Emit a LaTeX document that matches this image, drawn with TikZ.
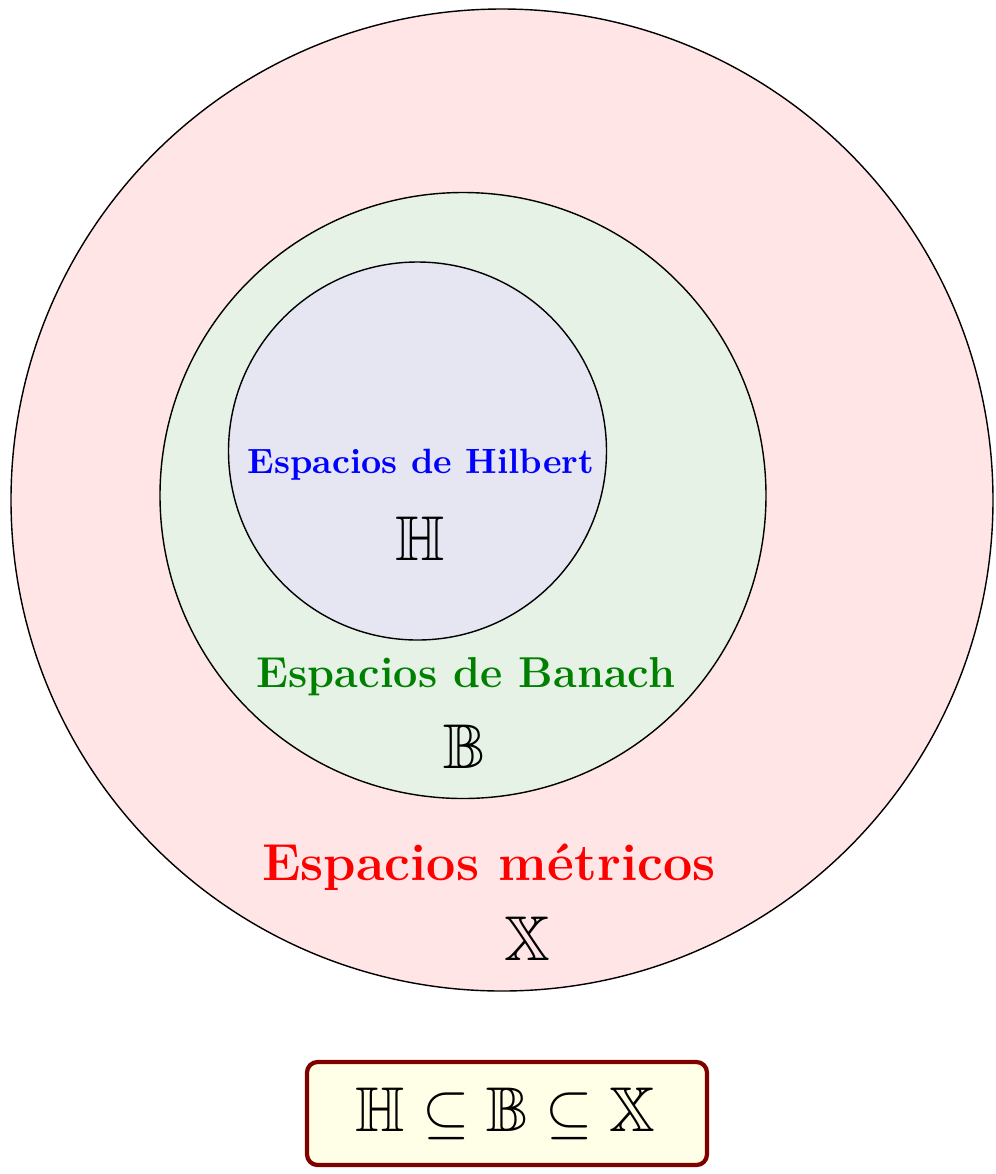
\documentclass[tikz,border=0pt]{standalone}
\usepackage{amsmath}
\usepackage{amssymb}
\usepackage{tikz}
\usetikzlibrary{positioning}

\definecolor{lavanda}{RGB}{230,230,242}

\begin{document}
\begin{tikzpicture}[
    espacio/.style={circle,draw,thin},
    titulo/.style={anchor=base,font=\bfseries},
    letra/.style={anchor=base,font=\fontsize{18}{22}\selectfont}
  ]
    \useasboundingbox (0,0) rectangle (9.95,-11.74);
    % circulos
    \node[espacio,fill=red!10,minimum size=9.82cm] (metricos) at (5.02,-5.00) {};
    \node[espacio,fill=green!50!black!10,minimum size=6.06cm] (banach) at (4.63,-4.955) {};
    \node[espacio,fill=lavanda,minimum size=3.78cm] (hilbert) at (4.175,-4.51) {};
    % textos
    \node[titulo,text=blue] (th) at (4.21,-4.73) {Espacios de Hilbert};
    \node[letra] (lh) at (4.20,-5.60) {$\mathbb{H}$};
    \node[titulo,text=green!50!black,font=\fontsize{12.3}{15}\selectfont\bfseries] (tb) at (4.66,-6.87) {Espacios de Banach};
    \node[letra] (lb) at (4.65,-7.68) {$\mathbb{B}$};
    \node[titulo,text=red,font=\fontsize{14.8}{18}\selectfont\bfseries] (tm) at (4.89,-8.80) {Espacios m\'etricos};
    \node[letra] (lx) at (5.27,-9.60) {$\mathbb{X}$};
    % inclusion
    \node[draw=red!50!black,very thick,fill=yellow!10,rounded corners=3pt,
          minimum width=4.0cm,minimum height=1.03cm] (caja) at (5.07,-11.135) {};
    \node[letra] (inc) at (5.055,-11.31) {$\mathbb{H}\subseteq\mathbb{B}\subseteq\mathbb{X}$};
\end{tikzpicture}
\end{document}
